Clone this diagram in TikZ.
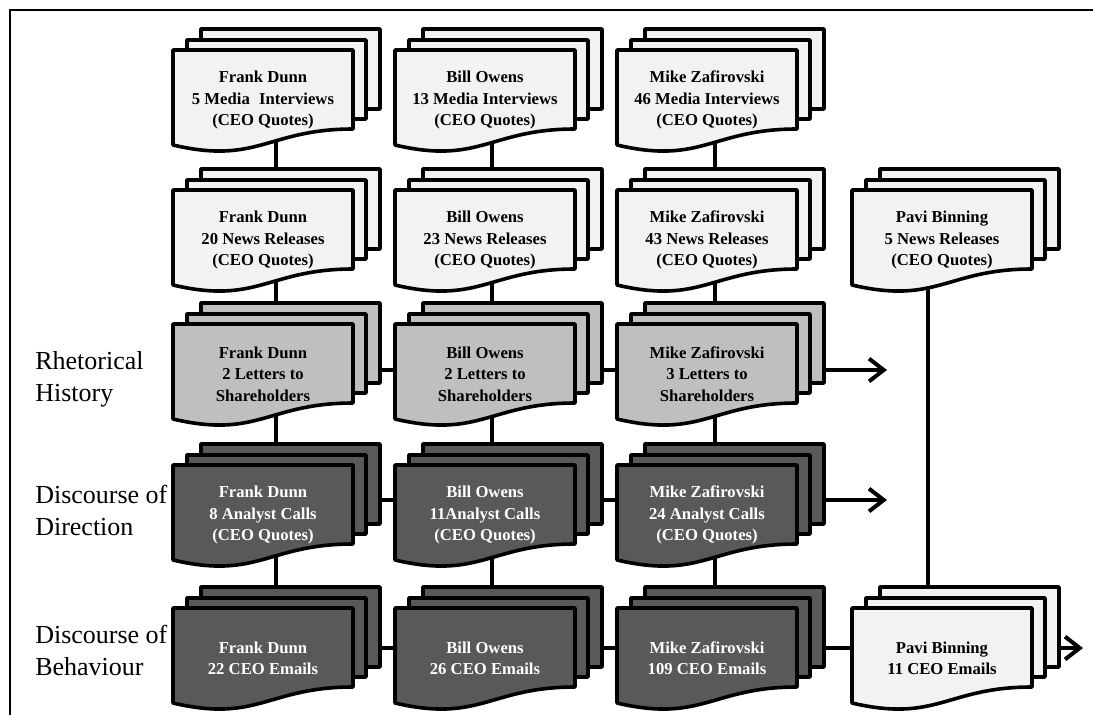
\documentclass[tikz,border=0pt]{standalone}
\usepackage{fontspec}
\setmainfont{Liberation Serif}
\usetikzlibrary{arrows.meta}
\pgfdeclarelayer{background}
\pgfsetlayers{background,main}
\definecolor{docLight}{HTML}{F2F2F2}
\definecolor{docMid}{HTML}{BFBFBF}
\definecolor{docDark}{HTML}{595959}
\tikzset{
  pagestyle/.style={draw=black,line width=2.7pt,line join=round},
  doctext/.style={align=center,inner sep=0pt,font=\fontsize{12.5pt}{16pt}\selectfont\bfseries},
  rowlabel/.style={anchor=west,align=left,inner sep=0pt,font=\fontsize{19.5pt}{24pt}\selectfont},
  conn/.style={line width=2.3pt},
  arr/.style={line width=2.5pt,-{Straight Barb[length=11pt,width=17pt,line width=3pt]}},
  frameline/.style={line width=2pt}
}
% #1 name, #2 x, #3 y (front page top-left), #4 fill, #5 text colour, #6 text, #7 connector x, #8 horizontal connector y
\newcommand{\mdoc}[8]{%
  \path[pagestyle,fill=#4] ({#2+28},{#3-21}) rectangle ({#2+207},{#3+59});
  \path[pagestyle,fill=#4] ({#2+14},{#3-10}) rectangle ({#2+193},{#3+69});
  \path[pagestyle,fill=#4] (#2,#3) -- ({#2+180},#3) -- ({#2+180},{#3+79})
     .. controls ({#2+95},{#3+79}) and ({#2+85},{#3+115}) .. (#2,{#3+95}) -- cycle;
  \node[doctext,text=#5] (#1) at ({#2+90},{#3+50}) {#6};
  \coordinate (#1-t) at (#7,{#3-21});
  \coordinate (#1-b) at (#7,{#3+80});
  \coordinate (#1-l) at (#2,#8);
  \coordinate (#1-r) at ({#2+207},#8);
}
\begin{document}
\begin{tikzpicture}[x=0.75pt,y=-0.75pt]
\useasboundingbox (0,0) rectangle (1093,715);
\draw[frameline] (10,715) -- (10,10) -- (1093,10);

% row 1: media interviews
\mdoc{r1c1}{173}{50}{docLight}{black}{Frank Dunn\\5 Media\hspace{0.3em} Interviews\\(CEO Quotes)}{276}{90}
\mdoc{r1c2}{395}{50}{docLight}{black}{Bill Owens\\13 Media Interviews\\(CEO Quotes)}{492}{90}
\mdoc{r1c3}{617}{50}{docLight}{black}{Mike Zafirovski\\46 Media Interviews\\(CEO Quotes)}{715}{90}
% row 2: news releases
\mdoc{r2c1}{173}{190}{docLight}{black}{Frank Dunn\\20 News Releases\\(CEO Quotes)}{276}{230}
\mdoc{r2c2}{395}{190}{docLight}{black}{Bill Owens\\23 News Releases\\(CEO Quotes)}{492}{230}
\mdoc{r2c3}{617}{190}{docLight}{black}{Mike Zafirovski\\43 News Releases\\(CEO Quotes)}{715}{230}
\mdoc{r2c4}{852}{190}{docLight}{black}{Pavi Binning\\5 News Releases\\(CEO Quotes)}{928}{230}
% row 3: letters
\mdoc{r3c1}{173}{324}{docMid}{black}{Frank Dunn\\2 Letters to\\Shareholders}{276}{370}
\mdoc{r3c2}{395}{324}{docMid}{black}{Bill Owens\\2 Letters to\\Shareholders}{492}{370}
\mdoc{r3c3}{617}{324}{docMid}{black}{Mike Zafirovski\\3 Letters to\\Shareholders}{715}{370}
% row 4: analyst calls
\mdoc{r4c1}{173}{465}{docDark}{white}{Frank Dunn\\8 Analyst Calls\\(CEO Quotes)}{276}{500}
\mdoc{r4c2}{395}{465}{docDark}{white}{Bill Owens\\11Analyst Calls\\(CEO Quotes)}{492}{500}
\mdoc{r4c3}{617}{465}{docDark}{white}{Mike Zafirovski\\24 Analyst Calls\\(CEO Quotes)}{715}{500}
% row 5: emails
\mdoc{r5c1}{173}{608}{docDark}{white}{Frank Dunn\\22 CEO Emails}{276}{648}
\mdoc{r5c2}{395}{608}{docDark}{white}{Bill Owens\\26 CEO Emails}{492}{648}
\mdoc{r5c3}{617}{608}{docDark}{white}{Mike Zafirovski\\109 CEO Emails}{715}{648}
\mdoc{r5c4}{852}{608}{docLight}{black}{Pavi Binning\\11 CEO Emails}{928}{648}

\coordinate (a3) at (887,370);
\coordinate (a4) at (887,500);
\coordinate (a5) at (1083,648);

\begin{pgfonlayer}{background}
  \foreach \c in {c1,c2,c3}{
    \draw[conn] (r1\c-b) -- (r2\c-t);
    \draw[conn] (r2\c-b) -- (r3\c-t);
    \draw[conn] (r3\c-b) -- (r4\c-t);
    \draw[conn] (r4\c-b) -- (r5\c-t);
  }
  \draw[conn] (r2c4-b) -- (r5c4-t);
  \draw[conn] (r3c1-r) -- (r3c2-l);
  \draw[conn] (r3c2-r) -- (r3c3-l);
  \draw[conn] (r4c1-r) -- (r4c2-l);
  \draw[conn] (r4c2-r) -- (r4c3-l);
  \draw[conn] (r5c1-r) -- (r5c2-l);
  \draw[conn] (r5c2-r) -- (r5c3-l);
  \draw[conn] (r5c3-r) -- (r5c4-l);
\end{pgfonlayer}
\draw[arr] (r3c3-r) -- (a3);
\draw[arr] (r4c3-r) -- (a4);
\draw[arr] (r5c4-r) -- (a5);

\node[rowlabel] (lab3) at (35,379) {Rhetorical\\History};
\node[rowlabel] (lab4) at (35,510) {Discourse of\\Direction};
\node[rowlabel] (lab5) at (35,650) {Discourse of\\Behaviour};
\end{tikzpicture}
\end{document}
